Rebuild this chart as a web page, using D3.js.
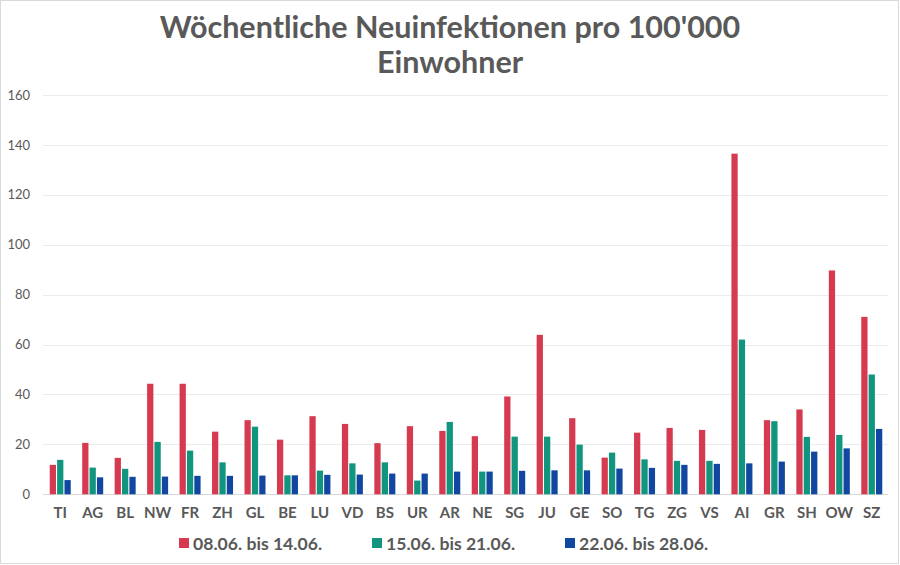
<!DOCTYPE html>
<html><head><meta charset="utf-8">
<script src="https://cdn.jsdelivr.net/npm/d3@7/dist/d3.min.js"></script>
<style>body{margin:0;background:#fff;}svg{display:block;font-family:Lato,"Open Sans",sans-serif;}</style>
</head><body>
<svg id="c" width="900" height="565"></svg>
<script>
const categories = ["TI","AG","BL","NW","FR","ZH","GL","BE","LU","VD","BS","UR","AR","NE","SG","JU","GE","SO","TG","ZG","VS","AI","GR","SH","OW","SZ"];
const seriesNames = ["08.06. bis 14.06.","15.06. bis 21.06.","22.06. bis 28.06."];
const week1 = [11.8,20.6,14.6,44.3,44.3,25.1,29.7,21.9,31.3,28.2,20.5,27.3,25.4,23.3,39.2,63.9,30.5,14.7,24.7,26.6,25.8,136.5,29.7,34.0,89.7,71.1];
const week2 = [13.8,10.7,10.2,21.0,17.5,12.8,27.1,7.6,9.5,12.4,12.8,5.5,29.0,9.1,23.1,23.1,19.9,16.7,14.0,13.4,13.4,62.0,29.3,23.0,23.8,48.0];
const week3 = [5.7,6.8,7.0,7.1,7.4,7.4,7.5,7.6,7.8,7.9,8.3,8.3,9.1,9.1,9.4,9.6,9.6,10.3,10.6,11.8,12.2,12.4,13.1,17.1,18.4,26.2];
const yTicks = [0,20,40,60,80,100,120,140,160];
const colors = ["#d63a50","#10957f","#1147a0"];
const title = ["Wöchentliche Neuinfektionen pro 100'000","Einwohner"];

const series = [week1, week2, week3];
const svg = d3.select("#c");
svg.append("rect").attr("x",0.5).attr("y",0.5).attr("width",898).attr("height",563)
  .attr("fill","#fff").attr("stroke","#d9d9d9");

const x0 = d3.scaleBand().domain(categories).range([44,888]).padding(0);
const bw = x0.bandwidth();
const x1 = d3.scaleBand().domain(d3.range(3)).range([bw/2-10.5, bw/2+10.5]).paddingInner(0.15);
const y = d3.scaleLinear().domain([0,160]).range([494.3,95]);

// grid
svg.append("g").selectAll("line").data(yTicks).join("line")
  .attr("x1",43).attr("x2",888).attr("y1",d=>Math.round(y(d))+0.5).attr("y2",d=>Math.round(y(d))+0.5)
  .attr("stroke",d=>d===0?"#d9d9d9":"#ebebeb").attr("stroke-width",1);

// y axis labels
const yAxis = d3.axisLeft(y).tickValues(yTicks).tickSize(0).tickPadding(0);
const gy = svg.append("g").attr("transform","translate(30,0)").call(yAxis);
gy.select(".domain").remove();
gy.selectAll("text").attr("font-size",13).attr("fill","#595959").attr("font-family","Lato");

// bars
const groups = svg.append("g").selectAll("g").data(categories).join("g")
  .attr("transform",d=>`translate(${x0(d)},0)`);
groups.selectAll("rect").data((d,i)=>series.map((s,k)=>({k,v:s[i]}))).join("rect")
  .attr("x",d=>x1(d.k)).attr("width",x1.bandwidth())
  .attr("y",d=>y(d.v)).attr("height",d=>y(0)-y(d.v))
  .attr("fill",d=>colors[d.k]);

// x axis labels
const xAxis = d3.axisBottom(x0).tickSize(0).tickPadding(0);
const gx = svg.append("g").attr("transform","translate(0,507)").call(xAxis);
gx.select(".domain").remove();
gx.selectAll("text").attr("font-size",15).attr("font-weight","bold").attr("fill","#595959")
  .attr("font-family","Lato").attr("dy","0.71em");

// title
svg.append("g").selectAll("text").data(title).join("text")
  .attr("x",450).attr("y",(d,i)=>38+i*35).attr("text-anchor","middle")
  .attr("font-size",30.5).attr("font-weight","bold").attr("fill","#595959").attr("font-family","Lato")
  .text(d=>d);

// legend
const legX = [179,372,565];
const leg = svg.append("g").selectAll("g").data(seriesNames).join("g")
  .attr("transform",(d,i)=>`translate(${legX[i]},0)`);
leg.append("rect").attr("x",0).attr("y",538).attr("width",10).attr("height",10).attr("fill",(d,i)=>colors[i]);
leg.append("text").attr("x",14).attr("y",550).attr("font-size",17.6).attr("font-weight","bold")
  .attr("fill","#595959").attr("font-family","Lato").text(d=>d);
</script>
</body></html>
